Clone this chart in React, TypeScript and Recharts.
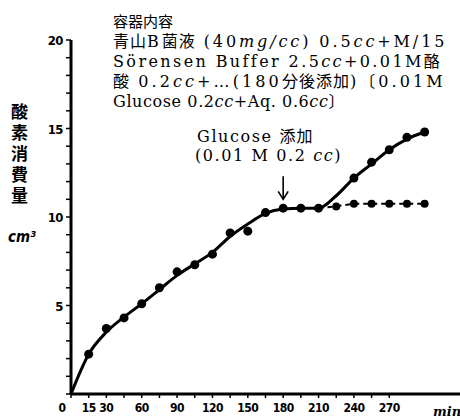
import React from 'react';
import { ComposedChart, Line, XAxis, YAxis, ReferenceLine } from 'recharts';

// time after start (min)
const minutes = [0, 15, 30, 45, 60, 75, 90, 105, 120, 135, 150, 165, 180, 195, 210, 225, 240, 255, 270, 285, 300];
// smooth curve drawn through the measurements
const fittedCurve = [0, 2.25, 3.5, 4.35, 5.1, 5.9, 6.7, 7.35, 8.0, 8.9, 9.6, 10.2, 10.45, 10.5, 10.5, 11.2, 12.2, 13.0, 13.8, 14.4, 14.8];
// measured O2 uptake, glucose added
const withGlucose = [null, 2.25, 3.7, 4.3, 5.1, 6.0, 6.9, 7.3, 7.9, 9.1, 9.2, 10.25, 10.5, 10.5, 10.5, null, 12.2, 13.1, 13.8, 14.5, 14.8];
// measured O2 uptake, no glucose (dashed)
const withoutGlucose = [null, null, null, null, null, null, null, null, null, null, null, null, null, null, 10.5, 10.6, 10.75, 10.75, 10.75, 10.75, 10.75];

const xTicks = [0, 15, 30, 45, 60, 75, 90, 105, 120, 135, 150, 165, 180, 195, 210, 225, 240, 255, 270];
const xLabels = ['0', '15', '30', '60', '90', '120', '150', '180', '210', '240', '270'];
const yTicks = [0, 1, 2, 3, 4, 5, 6, 7, 8, 9, 10, 11, 12, 13, 14, 15, 16, 17, 18, 19, 20];
const yLabels = ['5', '10', '15', '20'];

const data = minutes.map((m, i) => ({
  min: m,
  curve: fittedCurve[i],
  glucose: withGlucose[i],
  control: withoutGlucose[i],
}));

const tickFont = "'DejaVu Sans Condensed', 'Liberation Sans Narrow', 'Liberation Sans', sans-serif";
const serif = "'DejaVu Serif', 'Liberation Serif', 'Noto Sans CJK JP', serif";

const XTick = (props: any) => {
  const { x, y, payload } = props;
  const label = String(payload.value);
  if (!xLabels.includes(label)) return <g />;
  const dx = payload.value === 0 ? -9 : 0;
  return (
    <text x={x + dx} y={y + 12} textAnchor="middle" fontFamily={tickFont} fontWeight="bold" fontSize={12} letterSpacing={-0.5} fill="#000">
      {label}
    </text>
  );
};

const YTick = (props: any) => {
  const { x, y, payload } = props;
  const label = String(payload.value);
  if (!yLabels.includes(label)) return <g />;
  return (
    <text x={x - 1} y={y + 5} textAnchor="end" fontFamily={tickFont} fontWeight="bold" fontSize={13} letterSpacing={-0.5} fill="#000">
      {label}
    </text>
  );
};

const ArrowShape = (props: any) => {
  const { x1, y1, x2, y2 } = props;
  return (
    <g stroke="#000" strokeWidth={1.6} fill="none">
      <line x1={x1} y1={y1} x2={x2} y2={y2} />
      <polyline points={`${x2 - 5},${y2 - 8} ${x2},${y2} ${x2 + 5},${y2 - 8}`} />
    </g>
  );
};

const controlDot = (props: any) => {
  const { cx, cy, index, value } = props;
  if (value == null || index === 14) return <g key={index} />;
  return <circle key={index} cx={cx} cy={cy} r={4} fill="#000" />;
};

const cjk = { letterSpacing: 1, fontSize: 16 };

export default function App() {
  return (
    <div style={{ position: 'absolute', left: 0, top: 0, width: 460, height: 419, background: '#fff', fontFamily: serif }}>
      <ComposedChart width={460} height={419} data={data} margin={{ top: 40, right: 0, bottom: 0, left: 0 }}>
        <XAxis
          dataKey="min"
          type="number"
          domain={[0, 330]}
          ticks={xTicks}
          tick={<XTick />}
          tickSize={4}
          axisLine={{ stroke: '#000', strokeWidth: 3 }}
          tickLine={{ stroke: '#000', strokeWidth: 1.5 }}
          height={25}
          interval={0}
        />
        <YAxis
          type="number"
          domain={[0, 20]}
          ticks={yTicks}
          tick={<YTick />}
          tickSize={5}
          width={71}
          axisLine={{ stroke: '#000', strokeWidth: 3 }}
          tickLine={{ stroke: '#000', strokeWidth: 1.5 }}
          interval={0}
        />
        <Line type="monotone" dataKey="curve" stroke="#000" strokeWidth={3} dot={false} isAnimationActive={false} />
        <Line type="monotone" dataKey="glucose" stroke="none" dot={{ r: 4.5, fill: '#000', stroke: 'none' }} isAnimationActive={false} />
        <Line
          type="linear"
          dataKey="control"
          stroke="#000"
          strokeWidth={2}
          strokeDasharray="5 4"
          dot={controlDot}
          isAnimationActive={false}
        />
        <ReferenceLine segment={[{ x: 180, y: 12.3 }, { x: 180, y: 11.0 }]} shape={<ArrowShape />} ifOverflow="visible" />
      </ComposedChart>

      <div style={{ position: 'absolute', left: 113, top: 12, fontSize: 16, lineHeight: '20px', whiteSpace: 'nowrap', color: '#000' }}>
        <div><span style={{ fontSize: 15, letterSpacing: 0 }}>容器内容</span></div>
        <div style={{ letterSpacing: 2.9 }}><span style={cjk}>青山</span>B<span style={cjk}>菌液</span> (40<i>mg/cc</i>) 0.5<i>cc</i>+M/15</div>
        <div style={{ letterSpacing: 2.4 }}>Sörensen Buffer 2.5<i>cc</i>+0.01M<span style={cjk}>酪</span></div>
        <div style={{ letterSpacing: 3.1 }}><span style={cjk}>酸</span> 0.2<i>cc</i>+…(180<span style={cjk}>分後添加</span>)〔0.01M</div>
        <div style={{ letterSpacing: 0.6 }}>Glucose 0.2<i>cc</i>+Aq. 0.6<i>cc</i>〕</div>
      </div>

      <div style={{ position: 'absolute', left: 197, top: 127, fontSize: 16, letterSpacing: 1.6, lineHeight: '19px', whiteSpace: 'nowrap', color: '#000' }}>
        <div>Glucose <span style={cjk}>添加</span></div>
        <div style={{ marginLeft: -2 }}>(0.01 M 0.2 <i>cc</i>)</div>
      </div>

      <div style={{ position: 'absolute', left: 8, top: 103, writingMode: 'vertical-rl', fontSize: 17, letterSpacing: 4, lineHeight: '22px', fontWeight: 'bold', fontFamily: "'Noto Sans CJK JP', sans-serif", color: '#000' }}>
        酸素消費量
      </div>

      <div style={{ position: 'absolute', left: 8, top: 228, fontSize: 15, fontStyle: 'italic', fontWeight: 'bold', fontFamily: tickFont, color: '#000' }}>
        cm³
      </div>

      <div style={{ position: 'absolute', left: 433, top: 404, fontSize: 13, fontStyle: 'italic', fontWeight: 'bold', fontFamily: serif, color: '#000' }}>
        min
      </div>
    </div>
  );
}
